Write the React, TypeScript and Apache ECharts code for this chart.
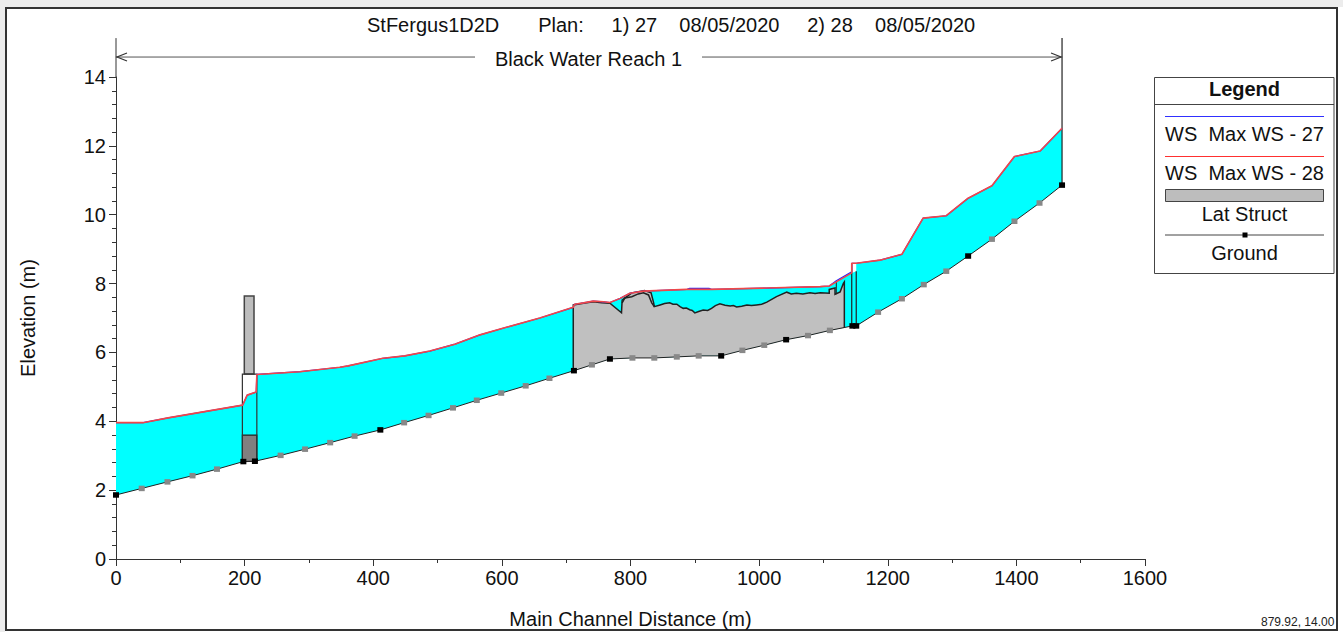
import React, { useEffect, useRef } from "react";
import * as echarts from "echarts";

const FONT = "'Liberation Sans', Arial, sans-serif";
const TITLE = "StFergus1D2D       Plan:     1) 27    08/05/2020     2) 28    08/05/2020";
const REACH = "Black Water Reach 1";
const X_NAME = "Main Channel Distance (m)";
const Y_NAME = "Elevation (m)";
const CORNER = "879.92, 14.00";
const LEGEND_TITLE = "Legend";
const LEGEND_LABELS = ["WS  Max WS - 27", "WS  Max WS - 28", "Lat Struct", "Ground"];

const groundStations = [0, 40, 80, 119, 157, 198, 216, 256, 294, 333, 371, 411, 448, 486, 524, 561, 599, 637, 674, 712, 740, 768, 803, 837, 872, 906, 941, 974, 1008, 1042, 1076, 1110, 1145, 1151, 1185, 1222, 1256, 1291, 1325, 1362, 1397, 1436, 1471];
const groundElev = [1.86, 2.05, 2.24, 2.42, 2.61, 2.83, 2.84, 3.01, 3.19, 3.38, 3.57, 3.75, 3.96, 4.17, 4.39, 4.61, 4.82, 5.03, 5.25, 5.47, 5.64, 5.81, 5.84, 5.84, 5.87, 5.9, 5.9, 6.06, 6.21, 6.37, 6.49, 6.64, 6.77, 6.77, 7.17, 7.56, 7.97, 8.36, 8.8, 9.29, 9.81, 10.34, 10.86];
const groundBlackStations = [0, 198, 216, 411, 712, 768, 941, 1042, 1145, 1151, 1325, 1471];

const wsStations = [0, 42, 81, 197, 204, 218, 219, 286, 348, 361, 415, 449, 488, 527, 566, 607, 659, 711, 713, 727, 742, 758, 768, 784, 799, 820, 888, 892, 922, 926, 1012, 1095, 1109, 1120, 1144, 1144, 1151, 1188, 1222, 1255, 1291, 1325, 1362, 1397, 1437, 1471];
const ws28Elev = [3.96, 3.96, 4.1, 4.47, 4.76, 4.85, 5.36, 5.44, 5.57, 5.61, 5.83, 5.9, 6.04, 6.24, 6.51, 6.73, 7, 7.31, 7.4, 7.44, 7.49, 7.47, 7.45, 7.57, 7.72, 7.78, 7.83, 7.83, 7.83, 7.83, 7.87, 7.91, 7.93, 8.05, 8.31, 8.59, 8.59, 8.68, 8.85, 9.9, 9.97, 10.48, 10.84, 11.69, 11.85, 12.51];
const ws27Elev = [3.96, 3.96, 4.1, 4.47, 4.76, 4.85, 5.36, 5.44, 5.57, 5.61, 5.83, 5.9, 6.04, 6.24, 6.51, 6.73, 7, 7.31, 7.4, 7.44, 7.49, 7.47, 7.45, 7.57, 7.72, 7.78, 7.83, 7.86, 7.86, 7.83, 7.87, 7.91, 7.93, 8.08, 8.34, 8.59, 8.59, 8.68, 8.85, 9.9, 9.97, 10.48, 10.84, 11.69, 11.85, 12.51];

const latStations = [711, 727, 742, 755, 768, 786, 787, 802, 822, 832, 836, 837, 846, 853, 861, 866, 872, 877, 882, 887, 892, 896, 900, 906, 913, 920, 926, 932, 939, 947, 955, 960, 965, 973, 981, 988, 996, 1004, 1012, 1027, 1043, 1050, 1058, 1068, 1079, 1087, 1095, 1109, 1109, 1118, 1118, 1126, 1131, 1132.5, 1132.5];
const latElev = [7.38, 7.43, 7.47, 7.44, 7.43, 7.15, 7.52, 7.73, 7.8, 7.73, 7.44, 7.33, 7.38, 7.42, 7.44, 7.4, 7.4, 7.33, 7.28, 7.29, 7.24, 7.22, 7.15, 7.19, 7.23, 7.22, 7.28, 7.36, 7.41, 7.37, 7.35, 7.36, 7.32, 7.34, 7.38, 7.36, 7.38, 7.4, 7.46, 7.62, 7.75, 7.7, 7.72, 7.7, 7.73, 7.71, 7.73, 7.72, 7.83, 7.87, 7.69, 7.76, 8.01, 8.05, 6.71];
const latInnerStations = [787, 791, 802, 812, 820, 828, 833, 837];
const latInnerElev = [7.44, 7.58, 7.62, 7.7, 7.73, 7.67, 7.44, 7.33];

const pairs = (xs: number[], ys: number[]) => xs.map((x, i) => [x, ys[i]]);

export default function App() {
  const ref = useRef<HTMLDivElement>(null);
  useEffect(() => {
    document.body.style.margin = "0";
    document.body.style.background = "#fff";
    const chart = echarts.init(ref.current!, null, { renderer: "svg" });

    const ground = pairs(groundStations, groundElev);
    const ws28 = pairs(wsStations, ws28Elev);
    const ws27 = pairs(wsStations, ws27Elev);
    const lat = pairs(latStations, latElev);

    const poly = (api: any, pts: number[][], style: any) => ({
      type: "polygon",
      shape: { points: pts.map((p) => api.coord(p)) },
      style,
    });
    const line = (api: any, pts: number[][], stroke: string, lineWidth = 1) => ({
      type: "polyline",
      shape: { points: pts.map((p) => api.coord(p)) },
      style: { stroke, lineWidth, fill: "none" },
    });

    const renderWater = (_: any, api: any) => ({
      type: "group",
      children: [
        poly(api, [...ws28, ...[...ground].reverse()], { fill: "#00ffff", stroke: "none" }),
        // empty head of the culvert, above its water level
        poly(api, [[1144, 8.31], [1144, 8.59], [1151, 8.59], [1151, 8.36]], { fill: "#fff", stroke: "none" }),
      ],
    });

    const renderStructures = (_: any, api: any) => {
      const latGround = ground.filter((p) => p[0] >= 712 && p[0] <= 1132).reverse();
      return {
        type: "group",
        children: [
          poly(api, [...lat, ...latGround, [711, 5.47]], { fill: "#c0c0c0", stroke: "none" }),
          line(api, [[711, 5.47], ...lat], "#222", 1.5),
          line(api, pairs(latInnerStations, latInnerElev), "#222", 1.5),
          line(api, [[1120, 7.69], [1120, 8.05]], "#222", 1),
          // bridge at 200 m
          poly(api, [[199.5, 7.64], [214.6, 7.64], [214.6, 5.37], [199.5, 5.37]], { fill: "#bdbdbd", stroke: "#444", lineWidth: 1.5 }),
          poly(api, [[196.5, 3.6], [219, 3.6], [219, 2.84], [196.5, 2.83]], { fill: "#808080", stroke: "#222", lineWidth: 1.2 }),
          line(api, [[196.5, 2.83], [196.5, 5.37], [219, 5.37], [219, 2.84]], "#333", 1.2),
          // culvert faces near 1150 m
          line(api, [[1144, 6.77], [1144, 8.59]], "#222", 1.2),
          line(api, [[1151, 6.77], [1151, 8.36]], "#222", 1.2),
          line(api, [[1471, 10.86], [1471, 15.13]], "#222", 1.2),
        ],
      };
    };

    const renderReach = (_: any, api: any) => {
      const y = 14.58;
      const [x0, py] = api.coord([0, y]);
      const [x1] = api.coord([1471, y]);
      const head = (tip: number, dir: number) => ({
        type: "polyline",
        shape: { points: [[tip + dir * 10, py - 4], [tip, py], [tip + dir * 10, py + 4]] },
        style: { stroke: "#333", lineWidth: 1.2, fill: "none" },
      });
      const seg = (a: number, b: number) => ({
        type: "line",
        shape: { x1: a, y1: py, x2: b, y2: py },
        style: { stroke: "#555", lineWidth: 1 },
      });
      const top = api.coord([0, 15.13]);
      const bottom = api.coord([0, 14]);
      return {
        type: "group",
        children: [
          seg(x0, 475),
          seg(702, x1),
          head(x0 + 1, 1),
          head(x1 - 1, -1),
          { type: "line", shape: { x1: x0, y1: top[1], x2: x0, y2: bottom[1] }, style: { stroke: "#333", lineWidth: 1 } },
        ],
      };
    };

    const lx1 = 1165;
    const lx2 = 1324;
    const lc = 1244.5;
    const ltext = (t: string, y: number, bold = false) => ({
      type: "text",
      x: lc,
      y,
      style: {
        text: t,
        font: `${bold ? "bold " : ""}20px ${FONT}`,
        fill: "#111",
        textAlign: "center",
        textVerticalAlign: "middle",
      },
    });
    const lline = (y: number, stroke: string) => ({
      type: "line",
      shape: { x1: lx1, y1: y, x2: lx2, y2: y },
      style: { stroke, lineWidth: 1 },
    });

    chart.setOption({
      animation: false,
      backgroundColor: "#fff",
      title: {
        text: TITLE,
        left: 367,
        top: 15,
        padding: 0,
        textStyle: { fontFamily: FONT, fontSize: 20, fontWeight: "normal", color: "#111" },
      },
      grid: { left: 116, top: 77, width: 1029, height: 482, containLabel: false, outerBoundsMode: "none" },
      xAxis: {
        type: "value",
        min: 0,
        max: 1600,
        interval: 200,
        name: X_NAME,
        nameLocation: "middle",
        nameGap: 50,
        nameTextStyle: { fontFamily: FONT, fontSize: 20, color: "#111" },
        axisLine: { show: true, onZero: false, lineStyle: { color: "#333", width: 1 } },
        axisTick: { show: true, length: 7, lineStyle: { color: "#333" } },
        minorTick: { show: true, splitNumber: 2, length: 4, lineStyle: { color: "#333" } },
        splitLine: { show: false },
        minorSplitLine: { show: false },
        axisLabel: { fontFamily: FONT, fontSize: 20, color: "#111", margin: 9, formatter: (v: number) => String(v) },
      },
      yAxis: {
        type: "value",
        min: 0,
        max: 14,
        interval: 2,
        name: Y_NAME,
        nameLocation: "middle",
        nameGap: 78,
        nameTextStyle: { fontFamily: FONT, fontSize: 20, color: "#111" },
        axisLine: { show: true, onZero: false, lineStyle: { color: "#333", width: 1 } },
        axisTick: { show: true, length: 7, lineStyle: { color: "#333" } },
        minorTick: { show: true, splitNumber: 5, length: 4, lineStyle: { color: "#333" } },
        splitLine: { show: false },
        minorSplitLine: { show: false },
        axisLabel: { fontFamily: FONT, fontSize: 20, color: "#111", margin: 10 },
      },
      series: [
        { type: "custom", name: "Water", z: 2, data: [0], renderItem: renderWater, silent: true },
        { type: "custom", name: "Lat Struct", z: 3, data: [0], renderItem: renderStructures, silent: true },
        {
          type: "line",
          name: "WS Max WS - 27",
          z: 4,
          data: ws27,
          showSymbol: false,
          clip: false,
          lineStyle: { color: "#2020ff", width: 1.2 },
        },
        {
          type: "line",
          name: "WS Max WS - 28",
          z: 5,
          data: ws28,
          showSymbol: false,
          clip: false,
          lineStyle: { color: "#f04848", width: 1.6 },
        },
        {
          type: "line",
          name: "Ground",
          z: 6,
          clip: false,
          symbol: "rect",
          symbolSize: [6, 5.5],
          showAllSymbol: true,
          lineStyle: { color: "#222", width: 1 },
          itemStyle: { color: "#888" },
          data: ground.map((p) => ({
            value: p,
            itemStyle: { color: groundBlackStations.includes(p[0]) ? "#000" : "#888" },
          })),
        },
        { type: "custom", name: "Reach", z: 7, data: [0], renderItem: renderReach, silent: true },
      ],
      graphic: [
        { type: "rect", shape: { x: 0, y: 0, width: 1343, height: 7 }, style: { fill: "#ececec" } },
        { type: "rect", shape: { x: 0, y: 0, width: 5, height: 632 }, style: { fill: "#ececec" } },
        {
          type: "text",
          x: 588.5,
          y: 59,
          style: { text: REACH, font: `20px ${FONT}`, fill: "#111", textAlign: "center", textVerticalAlign: "middle" },
        },
        {
          type: "text",
          x: 1261,
          y: 616,
          style: { text: CORNER, font: `12px ${FONT}`, fill: "#222" },
        },
        { type: "rect", shape: { x: 5, y: 631, width: 1338, height: 1 }, style: { fill: "#fff" } },
        { type: "rect", shape: { x: 6, y: 8, width: 1331, height: 622 }, style: { fill: "none", stroke: "#333", lineWidth: 2 } },
        // legend
        { type: "rect", shape: { x: 1154.5, y: 77.5, width: 179.5, height: 196 }, style: { fill: "#fff", stroke: "#444", lineWidth: 1 } },
        { type: "line", shape: { x1: 1154.5, y1: 104.5, x2: 1334, y2: 104.5 }, style: { stroke: "#444", lineWidth: 1 } },
        ltext(LEGEND_TITLE, 89, true),
        lline(116.5, "#3030ff"),
        ltext(LEGEND_LABELS[0], 134),
        lline(156.5, "#ff3030"),
        ltext(LEGEND_LABELS[1], 173),
        { type: "rect", shape: { x: 1165.5, y: 189.5, width: 158, height: 12 }, style: { fill: "#bdbdbd", stroke: "#444", lineWidth: 1 } },
        ltext(LEGEND_LABELS[2], 214),
        lline(235, "#444"),
        { type: "rect", shape: { x: 1242.5, y: 232.5, width: 5, height: 5 }, style: { fill: "#000" } },
        ltext(LEGEND_LABELS[3], 253),
      ],
    });
    return () => chart.dispose();
  }, []);
  return <div ref={ref} style={{ width: 1343, height: 632 }} />;
}
